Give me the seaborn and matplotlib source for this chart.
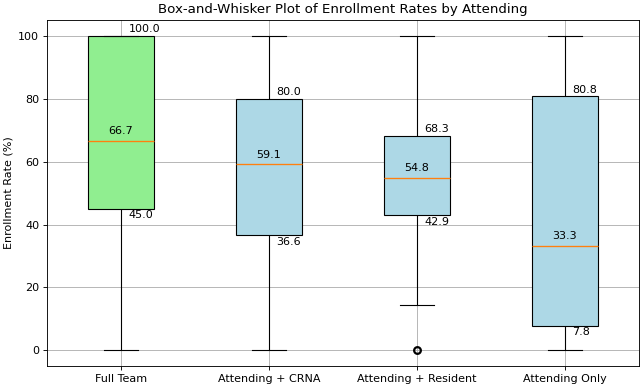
import numpy as np
import pandas as pd
import seaborn as sns
import matplotlib.pyplot as plt

# Categories and enrollment rates (%)
categories = ["Full Team", "Attending + CRNA", "Attending + Resident", "Attending Only"]
full_team = [0.0, 45.0, 66.7, 100.0, 100.0]
attending_crna = [0.0, 36.6, 59.1, 80.0, 100.0]
attending_resident = [0.0, 14.3, 42.9, 50.0, 54.8, 60.0, 68.3, 80.0, 100.0]
attending_only = [0.0, 7.8, 33.3, 80.8, 100.0]
box_colors = ["lightgreen", "lightblue", "lightblue", "lightblue"]

series = [full_team, attending_crna, attending_resident, attending_only]
df = pd.DataFrame({
    "Attending": np.repeat(categories, [len(s) for s in series]),
    "Rate": np.concatenate(series),
})

fig, ax = plt.subplots(figsize=(8.05, 4.8375), dpi=80)

sns.boxplot(data=df, x="Attending", y="Rate", hue="Attending", order=categories,
            palette=dict(zip(categories, box_colors)), legend=False, width=0.45,
            saturation=1, linecolor="black", linewidth=1, whis=1.5, ax=ax,
            medianprops={"color": "#ff7f0e", "linewidth": 1.2},
            flierprops={"marker": "o", "markerfacecolor": "none",
                        "markeredgecolor": "black", "markeredgewidth": 2,
                        "markersize": 6})

# Annotate quartiles and medians
for i, vals in enumerate(series):
    q1, med, q3 = np.percentile(vals, [25, 50, 75])
    ax.text(i + 0.05, q3 + 0.5, f"{q3:.1f}", ha="left", va="bottom", fontsize=10)
    ax.text(i, med + 1.5, f"{med:.1f}", ha="center", va="bottom", fontsize=10)
    ax.text(i + 0.05, q1 - 0.5, f"{q1:.1f}", ha="left", va="top", fontsize=10)

ax.set_title("Box-and-Whisker Plot of Enrollment Rates by Attending", fontsize=12)
ax.set_xlabel("")
ax.set_ylabel("Enrollment Rate (%)")
ax.set_ylim(-5, 105)
ax.set_xlim(-0.5, 3.5)
ax.grid(True, color="#b0b0b0", linewidth=0.8)
ax.set_axisbelow(True)

fig.subplots_adjust(left=0.073, right=0.992, top=0.948, bottom=0.054)
fig.savefig("out.png", dpi=80)
